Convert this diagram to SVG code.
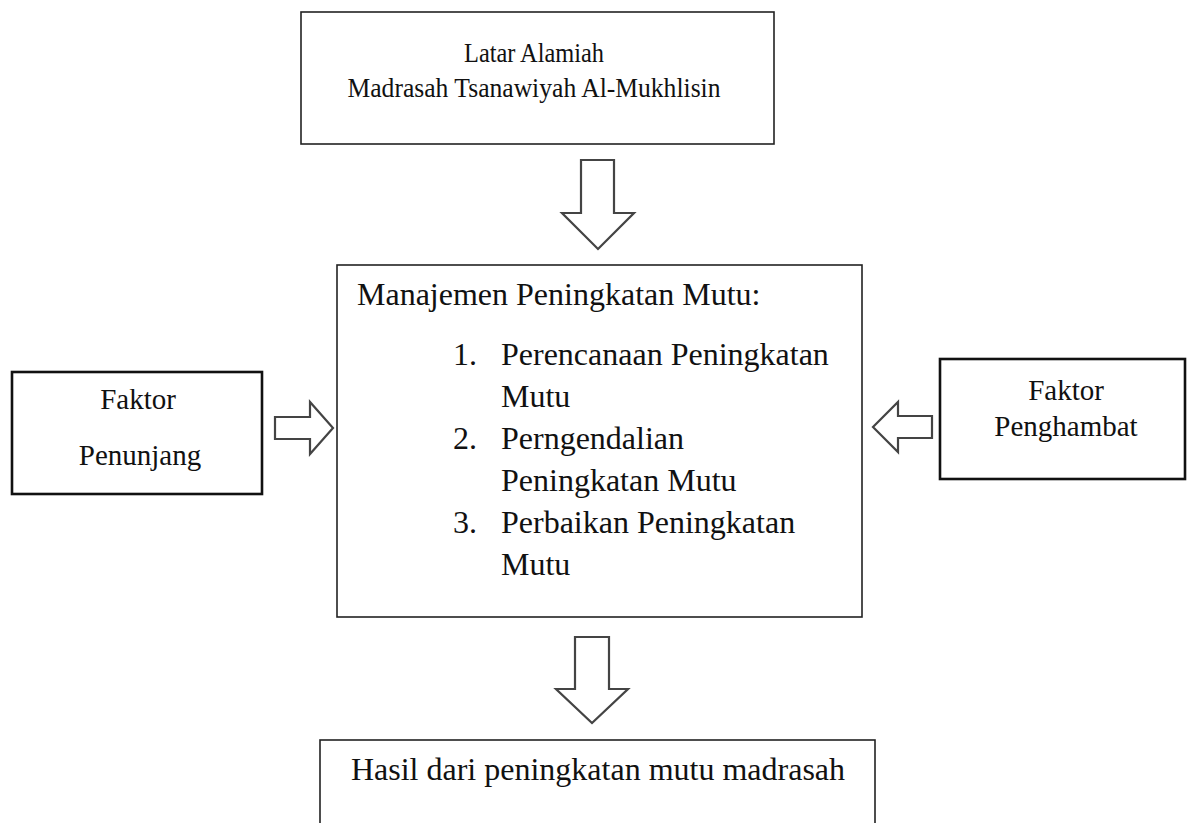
<svg xmlns="http://www.w3.org/2000/svg" width="1187" height="823" viewBox="0 0 1187 823">
<style>
.box{fill:#fff;stroke:#222;stroke-width:1.6}
.thick{fill:#fff;stroke:#111;stroke-width:2.6}
.arr{fill:#fff;stroke:#444;stroke-width:2.2;stroke-linejoin:miter}
text{font-family:"Liberation Serif","Times New Roman",serif;fill:#111}
.c{text-anchor:middle}
</style>
<rect width="1187" height="823" fill="#fff"/>
<g id="connectors">
<polygon class="arr" points="581,160 614,160 614,213 634,213 598,249 562,213 581,213"/>
<polygon class="arr" points="275,417 310,417 310,402 333,428 310,454 310,439 275,439"/>
<polygon class="arr" points="932,416 898,416 898,402 873,427 898,452 898,438 932,438"/>
<polygon class="arr" points="575,637 609,637 609,689 628,689 592,723 556,689 575,689"/>
</g>
<g id="latar">
<rect class="box" x="301" y="12" width="473" height="132"/>
<text class="c" x="534" y="62" font-size="28" textLength="140" lengthAdjust="spacingAndGlyphs">Latar Alamiah</text>
<text class="c" x="534" y="97" font-size="28" textLength="373" lengthAdjust="spacingAndGlyphs">Madrasah Tsanawiyah Al-Mukhlisin</text>
</g>
<g id="manajemen">
<rect class="box" x="337" y="265" width="525" height="352"/>
<text x="357" y="305" font-size="32">Manajemen Peningkatan Mutu:</text>
<text x="453" y="365" font-size="32">1.</text>
<text x="501" y="365" font-size="32">Perencanaan Peningkatan</text>
<text x="501" y="407" font-size="32">Mutu</text>
<text x="453" y="449" font-size="32">2.</text>
<text x="501" y="449" font-size="32">Perngendalian</text>
<text x="501" y="491" font-size="32">Peningkatan Mutu</text>
<text x="453" y="533" font-size="32">3.</text>
<text x="501" y="533" font-size="32">Perbaikan Peningkatan</text>
<text x="501" y="575" font-size="32">Mutu</text>
</g>
<g id="penunjang">
<rect class="thick" x="12" y="372" width="250" height="122"/>
<text class="c" x="138" y="409" font-size="29">Faktor</text>
<text class="c" x="140" y="465" font-size="29">Penunjang</text>
</g>
<g id="penghambat">
<rect class="thick" x="940" y="359" width="245" height="120"/>
<text class="c" x="1066" y="400" font-size="29">Faktor</text>
<text class="c" x="1066" y="436" font-size="29">Penghambat</text>
</g>
<g id="hasil">
<rect class="box" x="320" y="740" width="555" height="100"/>
<text class="c" x="598" y="780" font-size="32">Hasil dari peningkatan mutu madrasah</text>
</g>
</svg>
